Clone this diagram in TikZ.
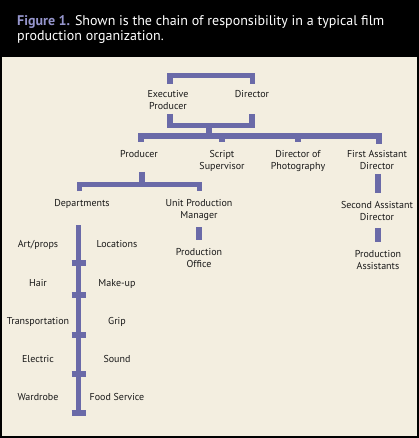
\documentclass[tikz,border=0pt]{standalone}
\usepackage{fontspec}
\setmainfont{PT Sans}
\definecolor{barcol}{RGB}{106,106,168}
\definecolor{panelcol}{RGB}{243,238,224}
\definecolor{figcol}{RGB}{150,150,205}
\definecolor{textcol}{RGB}{25,25,25}
\tikzset{
  lbl/.style={font=\fontsize{10}{12}\selectfont, align=center, inner sep=0pt, anchor=north, text=textcol},
  barline/.style={draw=barcol, line width=5.5pt, line cap=butt, line join=miter},
  tab/.style={draw=barcol, line width=6pt, line cap=butt}
}
\begin{document}
\begin{tikzpicture}[x=1pt,y=-1pt]
\useasboundingbox (0,0) rectangle (419,438);
\fill[black] (0,0) rectangle (419,438);
\fill[panelcol] (2,57) rectangle (417,436);
% title
\node[anchor=north west, inner sep=0pt, align=left, text=white,
  font=\fontsize{14}{14.5}\selectfont] (title) at (17,15.5) {{\bfseries\color{figcol}Figure 1.} Shown is the chain of responsibility in a typical film\\production organization.};
% labels
\node[lbl] (ep) at (168,90) {Executive\\Producer};
\node[lbl] (dir) at (252,90) {Director};
\node[lbl] (prod) at (139,150) {Producer};
\node[lbl] (ss) at (222,150) {Script\\Supervisor};
\node[lbl] (dop) at (298,150) {Director of\\Photography};
\node[lbl] (fad) at (377,150) {First Assistant\\Director};
\node[lbl] (dept) at (82,199) {Departments};
\node[lbl] (upm) at (199,199) {Unit Production\\Manager};
\node[lbl] (sad) at (377,201) {Second Assistant\\Director};
\node[lbl] (po) at (199,248) {Production\\Office};
\node[lbl] (pa) at (378,250) {Production\\Assistants};
\node[lbl] (art) at (38,240) {Art/props};
\node[lbl] (loc) at (117,240) {Locations};
\node[lbl] (hair) at (38,279) {Hair};
\node[lbl] (mk) at (117,279) {Make-up};
\node[lbl] (tr) at (38,317) {Transportation};
\node[lbl] (grip) at (117,317) {Grip};
\node[lbl] (el) at (38,355) {Electric};
\node[lbl] (snd) at (117,355) {Sound};
\node[lbl] (wr) at (38,393) {Wardrobe};
\node[lbl] (fs) at (117,393) {Food Service};
% connector coordinates
\coordinate (epT) at (170,84);
\coordinate (dirT) at (252.5,84);
\coordinate (epB) at (170,114);
\coordinate (dirB) at (252,114);
\coordinate (mid) at (209,125.5);
\coordinate (bigL) at (141,142);
\coordinate (bigR) at (379,144);
\coordinate (prodT) at (142,172);
\coordinate (deptT) at (79.5,191);
\coordinate (upmT) at (199.5,191);
% top bracket
\draw[barline] (epT) -- (epT |- 0,75.5) -- (dirT |- 0,75.5) -- (dirT);
% lower bracket
\draw[barline] (epB) -- (epB |- mid) -- (dirB |- mid) -- (dirB);
\draw[barline] (mid) -- (209,136);
% big bar
\draw[barline] (bigL) -- (bigL |- 0,136) -- (bigR |- 0,136) -- (bigR);
\draw[tab] (222,136) -- (222,142);
\draw[tab] (298,136) -- (298,142);
% producer bracket
\draw[barline] (prodT) -- (142,184.5);
\draw[barline] (deptT) -- (deptT |- 0,184.5) -- (upmT |- 0,184.5) -- (upmT);
% short connectors
\draw[tab] (upm.south |- 0,227) -- (upm.south |- 0,240);
\draw[tab] (378,174) -- (378,193);
\draw[tab] (378,228) -- (378,242);
% departments spine
\draw[barline] (78.5,225) -- (78.5,415);
\foreach \yy in {263,295,335,374,413}
  \draw[barline] (71.5,\yy) -- (85.5,\yy);
\end{tikzpicture}
\end{document}
